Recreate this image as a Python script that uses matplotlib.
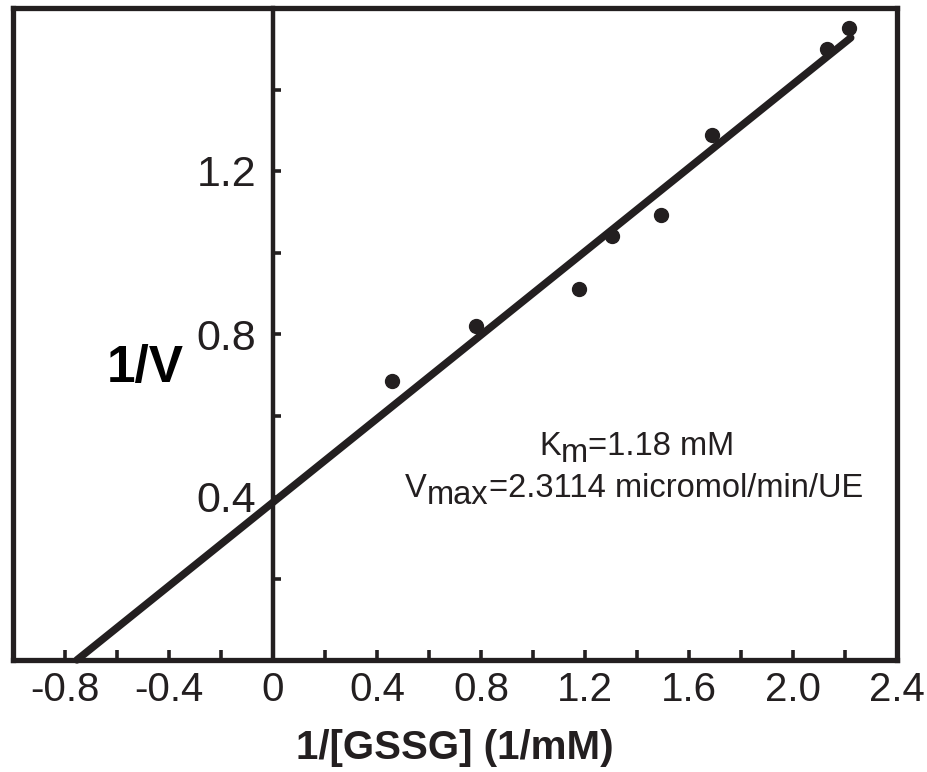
import matplotlib
matplotlib.use("Agg")
import matplotlib.pyplot as plt
from matplotlib.ticker import FixedLocator, FixedFormatter
from matplotlib.transforms import IdentityTransform
import numpy as np

# ---- data ----
inv_gssg = [0.458, 0.781, 1.177, 1.304, 1.492, 1.688, 2.131, 2.215]
inv_v = [0.685, 0.820, 0.910, 1.040, 1.092, 1.288, 1.499, 1.551]
fit_intercept = 0.387
fit_slope = 0.513
fit_x_range = [-0.754, 2.222]

x_major = [-0.8, -0.4, 0.0, 0.4, 0.8, 1.2, 1.6, 2.0, 2.4]
x_major_labels = ["-0.8", "-0.4", "0", "0.4", "0.8", "1.2", "1.6", "2.0", "2.4"]
x_minor = [-0.6, -0.2, 0.2, 0.6, 1.0, 1.4, 1.8, 2.2]
y_major = [0.4, 0.8, 1.2]
y_major_labels = ["0.4", "0.8", "1.2"]
y_minor = [0.2, 0.6, 1.0, 1.4]

xlabel = "1/[GSSG] (1/mM)"
ylabel = "1/V"
km_parts = [("K", 0), ("m", -1), ("=1.18 mM", 0)]
vmax_parts = [("V", 0), ("max", -1), ("=2.3114 micromol/min/UE", 0)]

INK = "#231f20"
FONT = "Liberation Sans"
W, H = 928, 772

fig = plt.figure(figsize=(W / 100, H / 100), dpi=100)
ax = fig.add_axes([13 / W, 1 - 660 / H, 884 / W, 652 / H])
ax.set_xlim(-1.0, 2.4)
ax.set_ylim(0, 1.6)

# frame
for side in ["top", "right", "bottom"]:
    ax.spines[side].set_linewidth(3.8)
    ax.spines[side].set_color(INK)
ax.spines["left"].set_position(("data", 0))
ax.spines["left"].set_linewidth(3.2)
ax.spines["left"].set_color(INK)
ax.plot([0, 0], [0, 1], transform=ax.transAxes, color=INK, lw=3.8,
        clip_on=False, solid_capstyle="projecting", zorder=3)

# ticks
ax.xaxis.set_major_locator(FixedLocator(x_major))
ax.xaxis.set_major_formatter(FixedFormatter(x_major_labels))
ax.xaxis.set_minor_locator(FixedLocator(x_minor))
ax.yaxis.set_major_locator(FixedLocator(y_major))
ax.yaxis.set_major_formatter(FixedFormatter(y_major_labels))
ax.yaxis.set_minor_locator(FixedLocator(y_minor))
ax.tick_params(axis="x", which="both", direction="in", length=7, width=2.6,
               color=INK, pad=8, labelsize=29, labelcolor=INK, top=False)
ax.tick_params(axis="y", which="both", direction="in", length=6, width=2.6,
               color=INK, pad=12, labelsize=31, labelcolor=INK, right=False)
for lab in ax.get_xticklabels() + ax.get_yticklabels():
    lab.set_fontfamily(FONT)

# data
xs = np.array(fit_x_range)
ax.plot(xs, fit_intercept + fit_slope * xs, color=INK, lw=5.4,
        solid_capstyle="round", zorder=4, clip_on=False)
ax.plot(inv_gssg, inv_v, "o", color=INK, markersize=10, zorder=5, clip_on=False)

# labels
fig.text(455 / W, 1 - 759 / H, xlabel, ha="center", va="baseline",
         fontsize=29, fontweight="bold", family=FONT, color=INK)
fig.text(145 / W, 1 - 382 / H, ylabel, ha="center", va="baseline",
         fontsize=37, fontweight="bold", family=FONT, color="black")


def rich_line(cx, base_top, parts, size):
    renderer = fig.canvas.get_renderer()
    texts, widths = [], []
    for s, sub in parts:
        t = fig.text(0, 0, s, transform=IdentityTransform(), fontsize=size,
                     family=FONT, color=INK, ha="left", va="baseline")
        texts.append((t, sub))
        widths.append(t.get_window_extent(renderer).width)
    x = cx - sum(widths) / 2
    base = H - base_top
    for (t, sub), w in zip(texts, widths):
        t.set_position((x, base + (sub * size * 100 / 72 * 0.21)))
        x += w


rich_line(637, 455, km_parts, 23.5)
rich_line(634, 497, vmax_parts, 23.5)

fig.savefig("out.png", dpi=100)
